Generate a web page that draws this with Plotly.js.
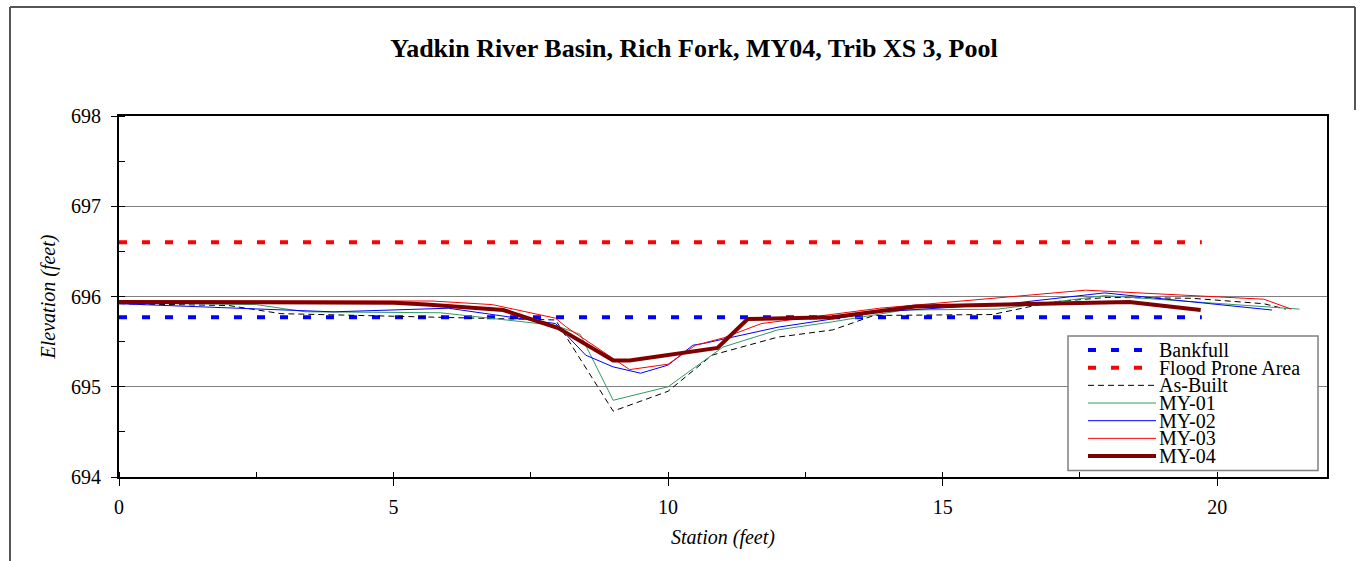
<!DOCTYPE html>
<html>
<head>
<meta charset="utf-8">
<script src="https://cdn.plot.ly/plotly-3.0.1.min.js"></script>
<style>
  html, body { margin: 0; padding: 0; background: #ffffff; }
  #chart { width: 1365px; height: 561px; }
</style>
</head>
<body>
<div id="chart"></div>
<script>
// ---- Data ----
const seriesNames = ["Bankfull", "Flood Prone Area", "As-Built", "MY-01", "MY-02", "MY-03", "MY-04"];

const bankfullX = [0, 19.72];
const bankfullY = [695.77, 695.77];

const floodX = [0, 19.72];
const floodY = [696.60, 696.60];

const asBuiltX = [0, 2.0, 2.95, 5.7, 7.95, 9.0, 10.0, 10.8, 12.0, 13.0, 13.75, 15.9, 17.0, 18.0, 19.55, 20.85, 21.25];
const asBuiltY = [695.92, 695.90, 695.81, 695.77, 695.74, 694.73, 694.95, 695.35, 695.55, 695.63, 695.79, 695.80, 695.94, 695.99, 695.98, 695.92, 695.86];

const my01X = [0, 2.5, 3.4, 5.85, 7.95, 8.4, 9.0, 10.0, 11.0, 12.0, 13.0, 14.3, 16.0, 17.95, 21.5];
const my01Y = [695.93, 695.91, 695.83, 695.82, 695.68, 695.58, 694.85, 695.00, 695.44, 695.63, 695.72, 695.85, 695.86, 696.01, 695.86];

const my02X = [0, 3.9, 6.0, 7.95, 8.5, 9.0, 9.5, 10.0, 10.45, 10.65, 12.0, 13.85, 16.2, 17.95, 21.0];
const my02Y = [695.92, 695.83, 695.87, 695.70, 695.35, 695.22, 695.15, 695.24, 695.46, 695.48, 695.66, 695.83, 695.92, 696.04, 695.85];

const my03X = [0, 2.5, 5.7, 6.8, 7.95, 8.15, 9.3, 10.0, 10.5, 11.0, 11.7, 13.85, 16.2, 17.6, 20.85, 21.35];
const my03Y = [695.95, 695.95, 695.95, 695.91, 695.76, 695.66, 695.19, 695.25, 695.46, 695.54, 695.70, 695.87, 696.00, 696.07, 695.97, 695.86];

const my04X = [0, 2.5, 5.0, 5.6, 7.0, 8.0, 9.0, 9.3, 10.9, 11.45, 13.0, 14.5, 16.2, 18.4, 19.7];
const my04Y = [695.94, 695.93, 695.93, 695.91, 695.85, 695.65, 695.29, 695.29, 695.43, 695.75, 695.77, 695.89, 695.91, 695.94, 695.85];

const chartTitle = "Yadkin River Basin, Rich Fork, MY04, Trib XS 3, Pool";
const xTitle = "Station (feet)";
const yTitle = "Elevation (feet)";

// ---- Styles ----
const FONT = "Liberation Serif, Times New Roman, serif";
const lineStyles = [
  { color: "#0000FF", width: 4, dash: "8px,15px" },
  { color: "#FF0000", width: 4, dash: "8px,15px" },
  { color: "#000000", width: 1, dash: "6px,4px" },
  { color: "#339966", width: 1, dash: "solid" },
  { color: "#0000FF", width: 1, dash: "solid" },
  { color: "#FF0000", width: 1, dash: "solid" },
  { color: "#800000", width: 4, dash: "solid" }
];
const xs = [bankfullX, floodX, asBuiltX, my01X, my02X, my03X, my04X];
const ys = [bankfullY, floodY, asBuiltY, my01Y, my02Y, my03Y, my04Y];

const traces = seriesNames.map((name, i) => ({
  type: "scatter",
  mode: "lines",
  name: name,
  x: xs[i],
  y: ys[i],
  line: Object.assign({ shape: "linear" }, lineStyles[i]),
  showlegend: false,
  hoverinfo: "skip"
}));

// ---- Layout geometry (pixels) ----
const W = 1365, H = 561;
const mL = 119, mR = 38, mT = 116, mB = 84;
const pw = W - mL - mR, ph = H - mT - mB;
const px2x = p => (p - mL) / pw;
const px2y = p => (H - mB - p) / ph;

// Legend (drawn as shapes + annotations in paper space)
const shapes = [];
const annotations = [];
shapes.push({
  type: "rect", xref: "paper", yref: "paper",
  x0: px2x(1068), x1: px2x(1318), y0: px2y(470.5), y1: px2y(336),
  line: { color: "#808080", width: 1.5 }, fillcolor: "#ffffff", layer: "above"
});
seriesNames.forEach((name, i) => {
  const rowPx = 350 + i * 17.67;
  shapes.push({
    type: "line", xref: "paper", yref: "paper",
    x0: px2x(1088), x1: px2x(1156), y0: px2y(rowPx), y1: px2y(rowPx),
    line: { color: lineStyles[i].color, width: lineStyles[i].width, dash: lineStyles[i].dash },
    layer: "above"
  });
  annotations.push({
    xref: "paper", yref: "paper", x: px2x(1158), y: px2y(rowPx),
    xanchor: "left", yanchor: "middle", showarrow: false,
    text: name, font: { family: FONT, size: 20, color: "#000000" }, borderpad: 0
  });
});

// Outer chart-area frame
const frameColor = "#555555";
shapes.push({ type: "line", xref: "paper", yref: "paper", x0: px2x(10), x1: px2x(10), y0: px2y(7), y1: px2y(561), line: { color: frameColor, width: 2 } });
shapes.push({ type: "line", xref: "paper", yref: "paper", x0: px2x(10), x1: px2x(1355), y0: px2y(7), y1: px2y(7), line: { color: frameColor, width: 2 } });
shapes.push({ type: "line", xref: "paper", yref: "paper", x0: px2x(1355), x1: px2x(1355), y0: px2y(7), y1: px2y(110), line: { color: frameColor, width: 2 } });

const layout = {
  width: W, height: H,
  margin: { l: mL, r: mR, t: mT, b: mB, pad: 0 },
  paper_bgcolor: "#ffffff",
  plot_bgcolor: "#ffffff",
  showlegend: false,
  font: { family: FONT, size: 20, color: "#000000" },
  title: {
    text: "<b>" + chartTitle + "</b>",
    font: { family: FONT, size: 26, color: "#000000" },
    x: 694 / W, xref: "container", xanchor: "center",
    y: 1 - 48 / H, yref: "container", yanchor: "middle"
  },
  xaxis: {
    range: [0, 22], dtick: 5, tick0: 0,
    showgrid: false, zeroline: false,
    showline: true, linecolor: "#000000", linewidth: 2, mirror: true,
    ticks: "outside", ticklen: 7, tickwidth: 1, tickcolor: "#000000",
    ticklabelstandoff: 4,
    tickfont: { family: FONT, size: 20, color: "#000000" },
    minor: { dtick: 2.5, ticks: "inside", ticklen: 5, tickwidth: 1, tickcolor: "#000000", showgrid: false },
    title: { text: "<i>" + xTitle + "</i>", font: { family: FONT, size: 20, color: "#000000" }, standoff: 13 },
    fixedrange: true
  },
  yaxis: {
    range: [694, 698], dtick: 1, tick0: 694,
    showgrid: true, gridcolor: "#808080", gridwidth: 1,
    zeroline: false,
    showline: true, linecolor: "#000000", linewidth: 2, mirror: true,
    ticks: "outside", ticklen: 6, tickwidth: 1, tickcolor: "#000000",
    ticklabelstandoff: 6,
    tickfont: { family: FONT, size: 20, color: "#000000" },
    minor: { dtick: 0.5, ticks: "inside", ticklen: 6, tickwidth: 1, tickcolor: "#000000", showgrid: false },
    title: { text: "<i>" + yTitle + "</i>", font: { family: FONT, size: 20, color: "#000000" }, standoff: 10 },
    fixedrange: true
  },
  shapes: shapes,
  annotations: annotations
};

Plotly.newPlot("chart", traces, layout, { displayModeBar: false, staticPlot: true });
</script>
</body>
</html>
